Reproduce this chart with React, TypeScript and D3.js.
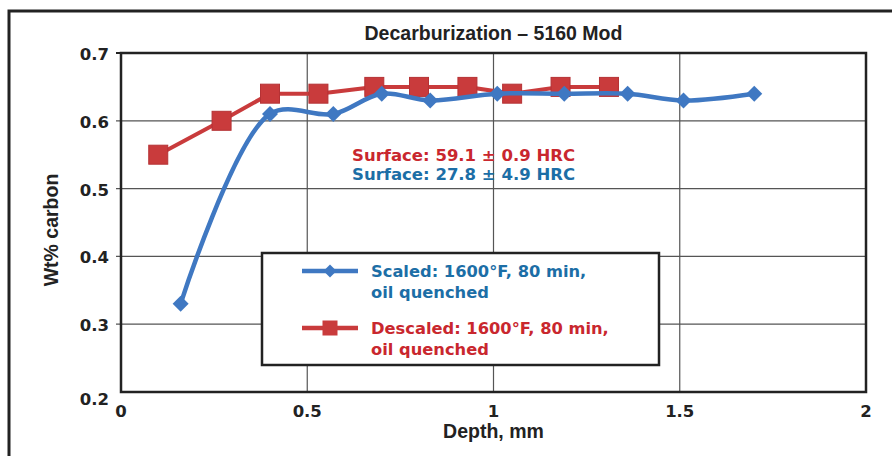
import React from "react";
import * as d3 from "d3";

const scaledDepth = [0.16, 0.4, 0.57, 0.7, 0.83, 1.01, 1.19, 1.36, 1.51, 1.7];
const scaledCarbon = [0.33, 0.61, 0.61, 0.64, 0.63, 0.64, 0.64, 0.64, 0.63, 0.64];
const descaledDepth = [0.1, 0.27, 0.4, 0.53, 0.68, 0.8, 0.93, 1.05, 1.18, 1.31];
const descaledCarbon = [0.55, 0.6, 0.64, 0.64, 0.65, 0.65, 0.65, 0.64, 0.65, 0.65];
const xTicks = [0, 0.5, 1, 1.5, 2];
const yTicks = [0.2, 0.3, 0.4, 0.5, 0.6, 0.7];

const W = 892;
const H = 456;
const margin = { left: 121, right: 26, top: 53, bottom: 64 };

const BLUE = "#3f78c2";
const RED = "#c93b3c";
const BLUE_TXT = "#1c6ea6";
const RED_TXT = "#c9272e";
const SANS = "'Liberation Sans', Arial, sans-serif";
const WIDE = "'DejaVu Sans', Verdana, sans-serif";

export default function App() {
  const x = d3.scaleLinear().domain([0, 2]).range([margin.left, W - margin.right]);
  const y = d3.scaleLinear().domain([0.2, 0.7]).range([H - margin.bottom, margin.top]);

  const scaled = scaledDepth.map((d, i) => [d, scaledCarbon[i]] as [number, number]);
  const descaled = descaledDepth.map((d, i) => [d, descaledCarbon[i]] as [number, number]);

  const smooth = d3
    .line<[number, number]>()
    .x((d) => x(d[0]))
    .y((d) => y(d[1]))
    .curve(d3.curveCatmullRom.alpha(0.5));
  const straight = d3
    .line<[number, number]>()
    .x((d) => x(d[0]))
    .y((d) => y(d[1]));

  const diamond = (cx: number, cy: number, r: number) =>
    `M${cx},${cy - r}L${cx + r},${cy}L${cx},${cy + r}L${cx - r},${cy}Z`;

  const [x0, x1] = x.range();
  const [y0, y1] = y.range();

  // legend box
  const lg = { x: 262, y: 253, w: 397, h: 112 };

  return (
    <svg
      width={W}
      height={H}
      style={{ position: "absolute", left: 0, top: 0, background: "#fff" }}
    >
      {/* outer frame */}
      <path d={`M9,${H + 2}V11H${W + 2}`} fill="none" stroke="#222" strokeWidth={3} />

      <text x={x(1)} y={40} textAnchor="middle" fontFamily={SANS} fontWeight="bold" fontSize={19.5} fill="#222">
        Decarburization – 5160 Mod
      </text>

      {/* grid */}
      {xTicks.slice(1, -1).map((t) => (
        <line key={"gx" + t} x1={x(t)} x2={x(t)} y1={y1} y2={y0} stroke="#555" strokeWidth={1.2} />
      ))}
      {yTicks.slice(1, -1).map((t) => (
        <line key={"gy" + t} x1={x0 - 5} x2={x1} y1={y(t)} y2={y(t)} stroke="#555" strokeWidth={1.2} />
      ))}
      <rect x={x0} y={y1} width={x1 - x0} height={y0 - y1} fill="none" stroke="#222" strokeWidth={2.5} />
      <line x1={x0 - 5} x2={x0} y1={y1} y2={y1} stroke="#222" strokeWidth={2} />

      {/* tick labels */}
      {yTicks.map((t) => (
        <text
          key={"ty" + t}
          x={x0 - 12}
          y={t === 0.2 ? y(t) + 13 : y(t) + 7}
          textAnchor="end"
          fontFamily={WIDE}
          fontWeight="bold"
          fontSize={16.5}
          fill="#222"
        >
          {t.toFixed(1)}
        </text>
      ))}
      {xTicks.map((t) => (
        <text
          key={"tx" + t}
          x={x(t)}
          y={y0 + 25}
          textAnchor="middle"
          fontFamily={WIDE}
          fontWeight="bold"
          fontSize={16.5}
          fill="#222"
        >
          {String(t)}
        </text>
      ))}
      <text x={x(1)} y={438} textAnchor="middle" fontFamily={SANS} fontWeight="bold" fontSize={19.5} fill="#222">
        Depth, mm
      </text>
      <text
        transform={`translate(58,230) rotate(-90)`}
        textAnchor="middle"
        fontFamily={SANS}
        fontWeight="bold"
        fontSize={19.5}
        fill="#222"
      >
        Wt% carbon
      </text>

      {/* series */}
      <path d={straight(descaled) || ""} fill="none" stroke={RED} strokeWidth={4} strokeLinejoin="round" />
      {descaled.map((d, i) => (
        <rect key={"r" + i} x={x(d[0]) - 9.5} y={y(d[1]) - 9.5} width={19} height={19} fill={RED} stroke="#b53235" strokeWidth={1} />
      ))}
      <path d={smooth(scaled) || ""} fill="none" stroke={BLUE} strokeWidth={4.5} strokeLinejoin="round" />
      {scaled.map((d, i) => (
        <path key={"b" + i} d={diamond(x(d[0]), y(d[1]), 8)} fill={BLUE} />
      ))}

      {/* annotations */}
      <text x={352} y={161} fontFamily={WIDE} fontWeight="bold" fontSize={16.5} fill={RED_TXT}>
        Surface: 59.1 ± 0.9 HRC
      </text>
      <text x={352} y={180} fontFamily={WIDE} fontWeight="bold" fontSize={16.5} fill={BLUE_TXT}>
        Surface: 27.8 ± 4.9 HRC
      </text>

      {/* legend */}
      <rect x={lg.x} y={lg.y} width={lg.w} height={lg.h} fill="#fff" stroke="#222" strokeWidth={2.5} />
      <line x1={302} x2={358} y1={271} y2={271} stroke={BLUE} strokeWidth={4.5} />
      <path d={diamond(330, 271, 6.5)} fill={BLUE} />
      <text x={371} y={277} fontFamily={WIDE} fontWeight="bold" fontSize={16.3} fill={BLUE_TXT}>
        Scaled: 1600°F, 80 min,
      </text>
      <text x={371} y={298} fontFamily={WIDE} fontWeight="bold" fontSize={16.3} fill={BLUE_TXT}>
        oil quenched
      </text>
      <line x1={302} x2={358} y1={328} y2={328} stroke={RED} strokeWidth={4.5} />
      <rect x={322.5} y={320.5} width={15} height={15} fill={RED} />
      <text x={371} y={334} fontFamily={WIDE} fontWeight="bold" fontSize={16.3} fill={RED_TXT}>
        Descaled: 1600°F, 80 min,
      </text>
      <text x={371} y={355} fontFamily={WIDE} fontWeight="bold" fontSize={16.3} fill={RED_TXT}>
        oil quenched
      </text>
    </svg>
  );
}
